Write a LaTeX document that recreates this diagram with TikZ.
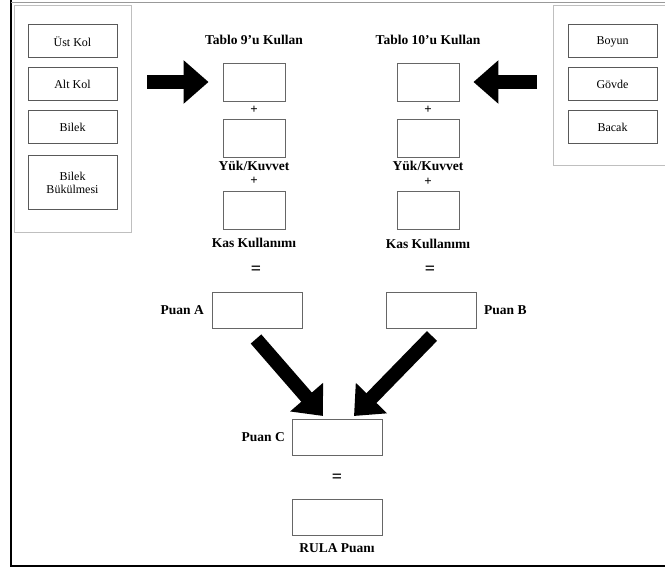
\documentclass[tikz,border=0pt]{standalone}
\usepackage{fontspec}
\setmainfont{Liberation Serif}
\usetikzlibrary{arrows.meta}
\begin{document}
\begin{tikzpicture}[x=1pt,y=-1pt,
  panel/.style={draw=black!25,line width=0.8pt},
  pbox/.style={draw=black!65,line width=1pt,inner sep=0pt,font=\fontsize{12}{13}\selectfont,align=center},
  sbox/.style={draw=black!60,line width=0.9pt,inner sep=0pt,minimum width=62pt,minimum height=38pt},
  wbox/.style={draw=black!60,line width=0.9pt,inner sep=0pt,minimum width=90pt,minimum height=36pt},
  lbl/.style={font=\bfseries\fontsize{13.5}{14}\selectfont,inner sep=0pt},
  op/.style={font=\bfseries\fontsize{13}{14}\selectfont,inner sep=0pt},
  eq/.style={font=\bfseries\fontsize{18}{18}\selectfont,inner sep=0pt},
  bigarrow/.style={line width=14pt,line cap=butt,-{Triangle[length=25pt,width=42pt]}}]
\useasboundingbox (0,0) rectangle (665,569);
% outer frame
\draw[line width=1.6pt] (11,0) -- (11,566) -- (665,566);
\draw[black!40,line width=0.6pt] (11,2) -- (665,2);
% panels
\draw[panel] (14,5) rectangle (131,232);
\draw[panel] (553,5) rectangle (665,165);
\node[pbox,minimum width=89pt,minimum height=33pt] (ust) at (72.5,41.5) {Üst Kol};
\node[pbox,minimum width=89pt,minimum height=33pt] (alt) at (72.5,84.5) {Alt Kol};
\node[pbox,minimum width=89pt,minimum height=33pt] (bil) at (72.5,127.5) {Bilek};
\node[pbox,minimum width=89pt,minimum height=54pt] (bb) at (72.5,183) {Bilek\\Bükülmesi};
\node[pbox,minimum width=89pt,minimum height=33pt] (boy) at (612.5,41.5) {Boyun};
\node[pbox,minimum width=89pt,minimum height=33pt] (gov) at (612.5,84.5) {Gövde};
\node[pbox,minimum width=89pt,minimum height=33pt] (bac) at (612.5,127.5) {Bacak};
% left column
\node[lbl] (t9) at (254,40) {Tablo 9'u Kullan};
\node[sbox] (a1) at (254,82) {};
\node[op] (p1) at (254,110) {+};
\node[sbox] (a2) at (254,138) {};
\node[lbl] (yk1) at (254,166) {Yük/Kuvvet};
\node[op] (p2) at (254,181) {+};
\node[sbox] (a3) at (254,210.5) {};
\node[lbl] (kk1) at (254,243) {Kas Kullanımı};
\node[eq] (e1) at (256,270) {=};
\node[wbox] (pa) at (257,310) {};
\node[lbl,anchor=east] (pal) at (204,310) {Puan A};
% right column
\node[lbl] (t10) at (428,40) {Tablo 10'u Kullan};
\node[sbox] (b1) at (428,82) {};
\node[op] (q1) at (428,110) {+};
\node[sbox] (b2) at (428,138) {};
\node[lbl] (yk2) at (428,166) {Yük/Kuvvet};
\node[op] (q2) at (428,182) {+};
\node[sbox] (b3) at (428,210.5) {};
\node[lbl] (kk2) at (428,244) {Kas Kullanımı};
\node[eq] (e2) at (430,270) {=};
\node[wbox] (pb) at (431,310) {};
\node[lbl,anchor=west] (pbl) at (484,310) {Puan B};
% bottom
\node[wbox] (pc) at (337.5,437) {};
\node[lbl,anchor=east] (pcl) at (285,437) {Puan C};
\node[eq] (e3) at (337,478) {=};
\node[wbox] (rula) at (337.5,517) {};
\node[lbl] (rl) at (337,548) {RULA Puanı};
% big arrows
\coordinate (la) at (147,82);
\coordinate (ra) at (537,82);
\draw[bigarrow] (la) -- ([xshift=-14pt]a1.west);
\draw[bigarrow] (ra) -- ([xshift=14pt]b1.east);
\coordinate (da1) at (256,339);
\coordinate (dt1) at (323,416);
\coordinate (da2) at (432,336);
\coordinate (dt2) at (354,416);
\draw[bigarrow] (da1) -- (dt1);
\draw[bigarrow] (da2) -- (dt2);
\end{tikzpicture}
\end{document}
